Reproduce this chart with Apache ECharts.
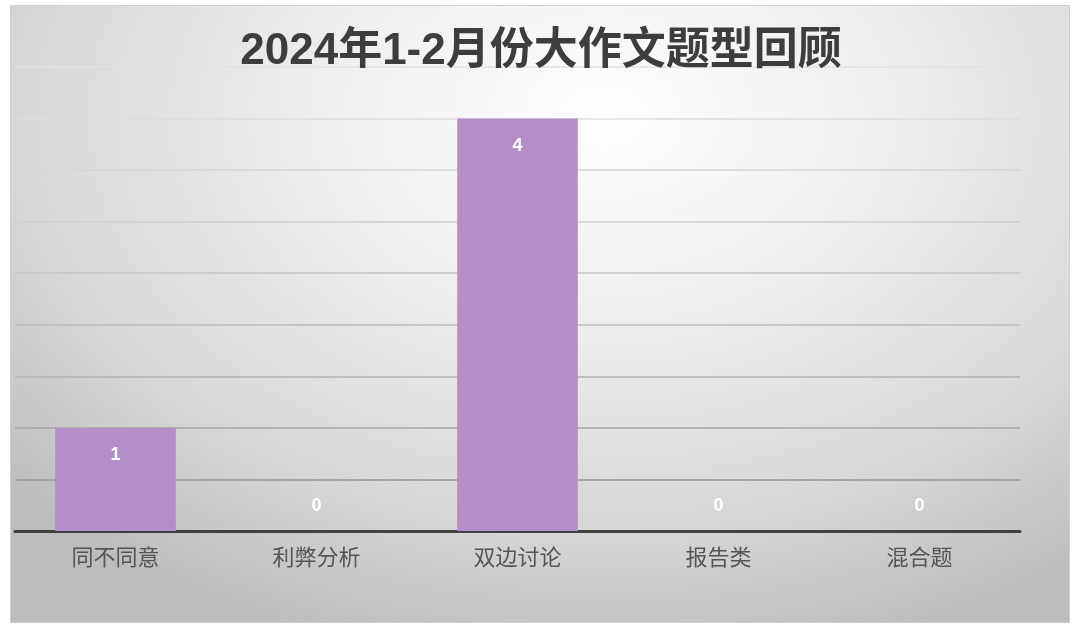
<!DOCTYPE html>
<html>
<head>
<meta charset="utf-8">
<script src="https://cdn.jsdelivr.net/npm/echarts@6/dist/echarts.min.js"></script>
<style>
  html, body { margin: 0; padding: 0; background: #fff; }
  #frame {
    position: absolute; left: 10px; top: 5px; width: 1058px; height: 616px;
    border: 1px solid #d0d0d0;
    background: radial-gradient(ellipse 75% 90% at 56% 18%, #ffffff 0%, #ececec 40%, #d6d6d6 75%, #bdbdbd 100%);
  }
  #main { width: 1060px; height: 618px; }
</style>
</head>
<body>
<div id="frame"><div id="main"></div></div>
<script>
var title = '2024年1-2月份大作文题型回顾';
var categories = ['同不同意', '利弊分析', '双边讨论', '报告类', '混合题'];
var counts = [1, 0, 4, 0, 0];
// grid lines get lighter toward the top, like the original
var gridColors = ['#999', '#999', '#a6a6a6', '#b3b3b3', '#bdbdbd', '#c6c6c6', '#cfcfcf', '#d6d6d6', '#dcdcdc', '#e2e2e2'];

var chart = echarts.init(document.getElementById('main'));

var barData = counts.map(function (v) {
    return {
        value: v,
        label: v > 0
            ? { position: 'insideTop', distance: 18 }
            : { position: 'top', distance: 16 }
    };
});

chart.setOption({
    backgroundColor: 'transparent',
    title: {
        text: title,
        left: 'center',
        top: 19,
        textStyle: {
            fontFamily: '"Liberation Sans", "Noto Sans CJK SC", sans-serif',
            fontWeight: 'bold',
            fontSize: 44,
            color: '#3d3d3d'
        }
    },
    grid: { left: 4, right: 51, top: 61, bottom: 93 },
    xAxis: {
        type: 'category',
        data: categories,
        axisTick: { show: false },
        axisLine: { lineStyle: { color: '#404040', width: 3 } },
        axisLabel: {
            margin: 15,
            fontSize: 22,
            color: '#555',
            fontFamily: '"Noto Sans CJK SC", sans-serif'
        }
    },
    yAxis: {
        type: 'value',
        min: 0,
        max: 4.5,
        interval: 0.5,
        axisLabel: { show: false },
        axisLine: { show: false },
        axisTick: { show: false },
        splitLine: { lineStyle: { color: gridColors, width: 1.5 } }
    },
    series: [{
        type: 'bar',
        data: barData,
        barCategoryGap: '40%',
        itemStyle: { color: '#b48ec9' },
        label: {
            show: true,
            color: '#fff',
            fontWeight: 'bold',
            fontSize: 18,
            fontFamily: '"Liberation Sans", sans-serif'
        }
    }]
});
</script>
</body>
</html>
